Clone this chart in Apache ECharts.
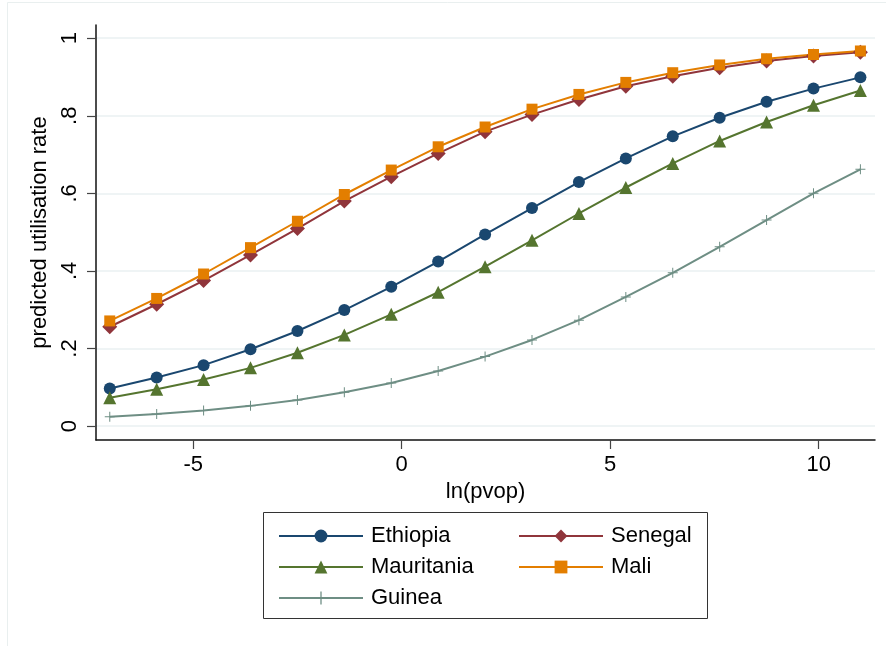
<!DOCTYPE html>
<html>
<head>
<meta charset="utf-8">
<script src="https://cdn.jsdelivr.net/npm/echarts@6/dist/echarts.min.js"></script>
<style>
  html, body { margin: 0; padding: 0; background: #fff; }
  #chart-main { width: 886px; height: 646px; }
</style>
</head>
<body>
<div id="chart-main"></div>
<script>
// x values: ln(pvop)
const xValues = [-7, -5.875, -4.75, -3.625, -2.5, -1.375, -0.25, 0.875, 2, 3.125, 4.25, 5.375, 6.5, 7.625, 8.75, 9.875, 11]

// predicted utilisation rate by country
const ethiopia = [0.097, 0.125, 0.157, 0.198, 0.245, 0.299, 0.359, 0.424, 0.494, 0.562, 0.629, 0.690, 0.747, 0.795, 0.836, 0.870, 0.899]
const senegal = [0.256, 0.314, 0.375, 0.441, 0.509, 0.580, 0.643, 0.703, 0.759, 0.803, 0.842, 0.876, 0.902, 0.924, 0.941, 0.954, 0.964]
const mauritania = [0.073, 0.095, 0.120, 0.150, 0.189, 0.235, 0.288, 0.345, 0.411, 0.479, 0.548, 0.615, 0.677, 0.735, 0.784, 0.827, 0.865]
const mali = [0.271, 0.329, 0.392, 0.460, 0.528, 0.597, 0.660, 0.720, 0.771, 0.817, 0.855, 0.886, 0.911, 0.931, 0.947, 0.958, 0.967]
const guinea = [0.024, 0.031, 0.040, 0.052, 0.067, 0.087, 0.111, 0.142, 0.179, 0.222, 0.273, 0.333, 0.395, 0.462, 0.531, 0.600, 0.662]

// axis ticks
const xTicks = [-5, 0, 5, 10]
const yTicks = [0, 0.2, 0.4, 0.6, 0.8, 1]
const yTickLabels = ['0', '.2', '.4', '.6', '.8', '1']

const FONT = 'Liberation Sans, Arial, Helvetica, sans-serif'
const plusPath = 'path://M4.5,0h1v4.5h4.5v1h-4.5v4.5h-1v-4.5h-4.5v-1h4.5z'
const diamondPath = 'path://M5,0L10,5L5,10L0,5z'

function pairs(ys) {
  return xValues.map((x, i) => [x, ys[i]])
}

function makeSeries(name, ys, color, symbol, size) {
  return {
    name: name,
    type: 'line',
    data: pairs(ys),
    symbol: symbol,
    symbolSize: size,
    showAllSymbol: true,
    lineStyle: { color: color, width: 2 },
    itemStyle: { color: color },
    emphasis: { disabled: true },
    animation: false
  }
}

const legendCommon = {
  orient: 'vertical',
  itemWidth: 84,
  itemHeight: 16,
  itemGap: 9,
  selectedMode: false,
  textStyle: { fontFamily: FONT, fontSize: 22, color: '#000', padding: [0, 0, 0, 3] }
}

const myChart = echarts.init(document.getElementById('chart-main'), null, { renderer: 'canvas' })
myChart.setOption({
  backgroundColor: '#fff',
  animation: false,
  grid: { left: 96, top: 25, right: 11, bottom: 206 },
  xAxis: {
    type: 'value',
    min: -7.33,
    max: 11.35,
    name: 'ln(pvop)',
    nameLocation: 'middle',
    nameGap: 38,
    nameTextStyle: { fontFamily: FONT, fontSize: 22, color: '#000' },
    axisLine: { show: true, onZero: false, lineStyle: { color: '#111', width: 1.5 } },
    axisTick: { show: true, length: 9, customValues: xTicks, lineStyle: { color: '#444', width: 1.2 } },
    axisLabel: {
      customValues: xTicks,
      margin: 14,
      fontFamily: FONT, fontSize: 22, color: '#000',
      formatter: (v) => String(v)
    },
    splitLine: { show: false }
  },
  yAxis: {
    type: 'value',
    min: -0.036,
    max: 1.034,
    name: 'predicted utilisation rate',
    nameLocation: 'middle',
    nameGap: 39,
    nameTextStyle: { fontFamily: FONT, fontSize: 22, color: '#000' },
    axisLine: { show: true, onZero: false, lineStyle: { color: '#111', width: 1.5 } },
    axisTick: { show: true, length: 9, customValues: yTicks, lineStyle: { color: '#444', width: 1.2 } },
    axisLabel: {
      customValues: yTicks,
      rotate: 90,
      margin: 15,
      fontFamily: FONT, fontSize: 22, color: '#000',
      formatter: (v) => {
        const i = yTicks.findIndex((t) => Math.abs(t - v) < 1e-6)
        return i >= 0 ? yTickLabels[i] : ''
      }
    },
    splitLine: { show: true, lineStyle: { color: '#eaf1f2', width: 1.5 } }
  },
  legend: [
    Object.assign({ left: 273, top: 520, data: ['Ethiopia', 'Mauritania', 'Guinea'] }, legendCommon),
    Object.assign({ left: 513, top: 520, data: ['Senegal', 'Mali'] }, legendCommon)
  ],
  graphic: [
    {
      type: 'rect',
      shape: { x: 7.5, y: 2.5, width: 1000, height: 1000 },
      style: { fill: 'none', stroke: '#e9efef', lineWidth: 1 },
      silent: true
    },
    {
      type: 'rect',
      shape: { x: 263.5, y: 512.5, width: 444, height: 106 },
      style: { fill: 'none', stroke: '#333', lineWidth: 1 },
      silent: true
    }
  ],
  series: [
    makeSeries('Ethiopia', ethiopia, '#1a476f', 'circle', 12),
    makeSeries('Senegal', senegal, '#90353b', diamondPath, 15),
    makeSeries('Mauritania', mauritania, '#55752f', 'triangle', 13),
    makeSeries('Mali', mali, '#e37e00', 'rect', 11),
    makeSeries('Guinea', guinea, '#6e8e84', plusPath, 10)
  ]
})
</script>
</body>
</html>
